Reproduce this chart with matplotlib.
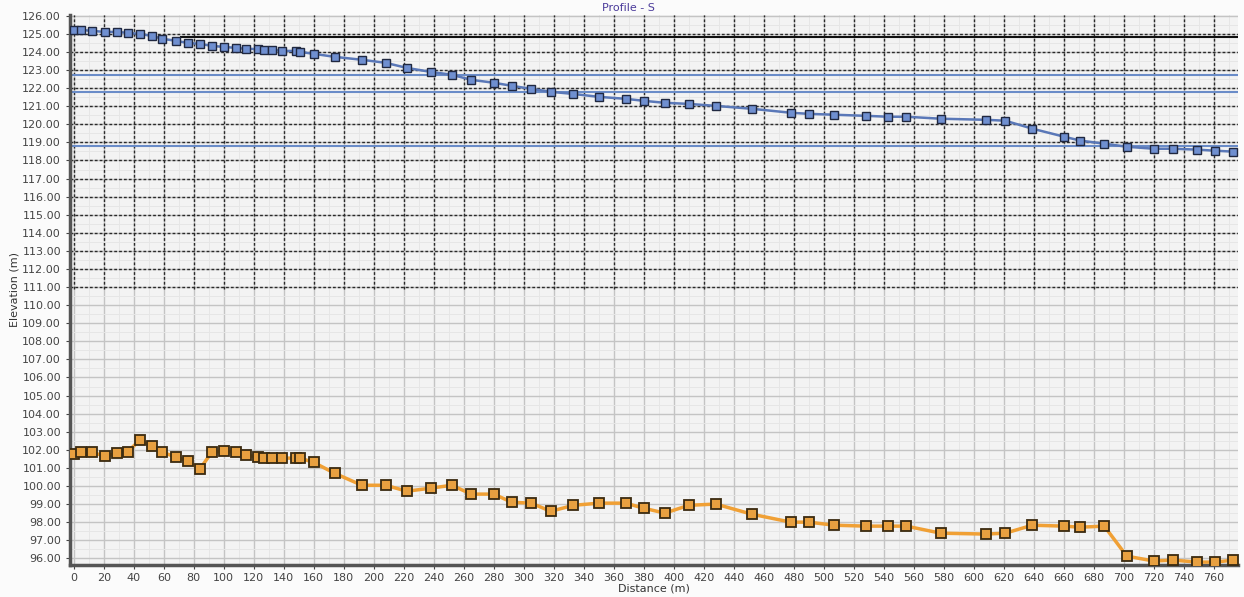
import matplotlib.pyplot as plt
import numpy as np
from matplotlib.ticker import MultipleLocator

# distance along profile (m)
distance = [0, 4.7, 12, 20.6, 28.6, 36, 44, 52, 59, 68, 76, 84, 92, 100, 108, 115,
            123, 127, 132, 139, 148, 151, 160, 174, 192, 208, 222, 238, 252, 265,
            280, 292, 305, 318, 333, 350, 368, 380, 394, 410, 428, 452, 478, 490,
            507, 528, 543, 555, 578, 608, 621, 639, 660, 671, 687, 702, 720, 733,
            749, 761, 773]

# bed elevation (orange series)
elevation = [101.76, 101.9, 101.87, 101.65, 101.8, 101.9, 102.53, 102.2, 101.87,
             101.6, 101.37, 100.93, 101.87, 101.92, 101.87, 101.7, 101.6, 101.54,
             101.54, 101.54, 101.54, 101.54, 101.3, 100.7, 100.04, 100.04, 99.71,
             99.88, 100.04, 99.55, 99.55, 99.1, 99.05, 98.6, 98.93, 99.05, 99.05,
             98.77, 98.5, 98.93, 99.0, 98.44, 98.0, 98.0, 97.83, 97.78, 97.78,
             97.78, 97.39, 97.34, 97.39, 97.83, 97.78, 97.72, 97.78, 96.12, 95.85,
             95.9, 95.79, 95.79, 95.9]

# upper series (blue)
upper = [125.22, 125.22, 125.17, 125.11, 125.11, 125.06, 125.0, 124.89, 124.73,
         124.62, 124.5, 124.45, 124.34, 124.28, 124.23, 124.17, 124.17, 124.12,
         124.12, 124.06, 124.06, 124.0, 123.9, 123.73, 123.57, 123.4, 123.12,
         122.9, 122.74, 122.46, 122.3, 122.13, 121.96, 121.8, 121.68, 121.52,
         121.41, 121.3, 121.19, 121.13, 121.02, 120.86, 120.64, 120.58, 120.53,
         120.47, 120.42, 120.42, 120.31, 120.25, 120.2, 119.76, 119.32, 119.1,
         118.93, 118.76, 118.65, 118.65, 118.6, 118.54, 118.49]

fig = plt.figure(figsize=(12.44, 5.97), dpi=100, facecolor='#fbfbfb')
ax = fig.add_axes([0.0563, 0.0536, 0.9387, 0.9214])
ax.set_facecolor('#f3f3f3')

ax.set_xlim(-2.5, 776)
ax.set_ylim(95.63, 126.05)

ax.xaxis.set_minor_locator(MultipleLocator(10))
ax.yaxis.set_minor_locator(MultipleLocator(0.5))
ax.set_xticks(np.arange(0, 761, 20))
ax.set_yticks(np.arange(96, 127, 1))
ax.yaxis.set_major_formatter(lambda v, p: f'{v:.2f}')

ax.grid(which='major', color='#c4c4c4', lw=1.0)
ax.grid(which='minor', color='#e6e6e6', lw=0.7)
ax.set_axisbelow(True)

# darker dashed grid in the upper part
for yv in np.arange(111, 126, 1):
    ax.hlines(yv, -2.5, 776, color='#2a2a2a', lw=1.0, ls=(0, (2, 1.5)), zorder=1)
for xv in np.arange(0, 761, 20):
    ax.vlines(xv, 110.9, 126.05, color='#2a2a2a', lw=1.0, ls=(0, (2, 1.5)), zorder=1)
for yv in [122.73, 121.8, 118.8]:
    ax.hlines(yv, -2.5, 776, color='#6a8cc8', lw=1.5, zorder=1)
ax.hlines(124.84, 70.6, 776, color='#111111', lw=1.5, zorder=1)

ax.plot(distance, upper, color='#5a78b8', lw=1.8, marker='s', ms=5.5,
        mfc='#6f8fd0', mec='#202840', mew=1.0, zorder=3)
ax.plot(distance, elevation, color='#f0a035', lw=2.5, marker='s', ms=7,
        mfc='#e8a040', mec='#3a2a10', mew=1.3, zorder=3)

for side in ['top', 'right']:
    ax.spines[side].set_visible(False)
ax.spines['left'].set_color('#555555')
ax.spines['left'].set_linewidth(2.5)
ax.spines['bottom'].set_color('#555555')
ax.spines['bottom'].set_linewidth(2.5)

ax.tick_params(axis='both', which='major', labelsize=8, colors='#444444', length=3)
ax.tick_params(axis='both', which='minor', length=0)
ax.tick_params(axis='x', pad=3)

ax.set_xlabel('Distance (m)', fontsize=8, color='#333333', labelpad=0)
ax.set_ylabel('Elevation (m)', fontsize=8, color='#333333', labelpad=2)

fig.text(628 / 1244, 1 - 8 / 597, 'Profile - S', ha='center', va='center',
         fontsize=8, color='#4a3a9a')

fig.savefig('out.png', dpi=100, facecolor=fig.get_facecolor())
